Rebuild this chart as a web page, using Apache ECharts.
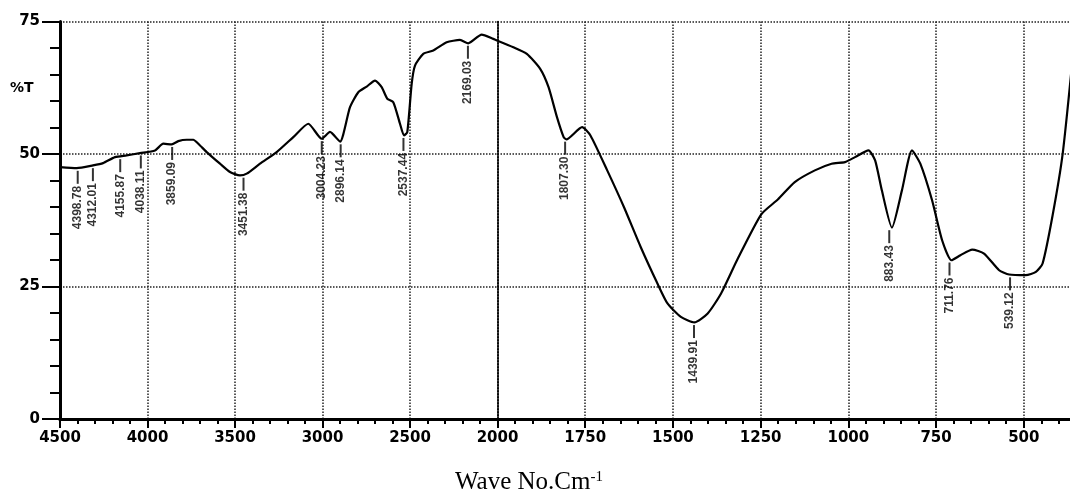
<!DOCTYPE html>
<html>
<head>
<meta charset="utf-8">
<script src="https://cdn.jsdelivr.net/npm/echarts@6/dist/echarts.min.js"></script>
<style>
html, body {margin:0; padding:0; background:#fff;}
#ir_main {width:1070px; height:500px;}
</style>
</head>
<body>
<div id="ir_main"></div>
<script>
// 光谱曲线 (wave number / %T)
var wave_no = [4500, 4404.6, 4311.4, 4254, 4185.7, 4118.9, 4042.9, 3957.2, 3909.7, 3861.7, 3824, 3776, 3738.3, 3709.8, 3661.8,
    3585.8, 3528.6, 3471.5, 3433.2, 3357.2, 3261.8, 3166.9, 3081.2, 3004.6, 2957.2, 2900, 2842.9, 2795.5, 2747.5, 2700,
    2661.8, 2629.8, 2595.5, 2557.2, 2534.4, 2515.5, 2490.4, 2471.5, 2424.1, 2367, 2290.4, 2214.4, 2167, 2090.4, 2024.2,
    2000, 1954.7, 1916.4, 1878.3, 1854.5, 1830.5, 1811.5, 1803.8, 1758.9, 1735.1, 1687.3, 1639.7, 1591.9, 1544.1, 1515.5,
    1477.4, 1439.3, 1400.9, 1362.8, 1315, 1248.2, 1200.4, 1152.8, 1095.5, 1047.8, 1009.6, 981, 942.6, 923.7, 904.6,
    875.9, 847.3, 818.7, 794.9, 761.4, 732.8, 706.1, 680.4, 646.9, 613.3, 570.3, 541.7, 494.2, 465.5, 446.4,
    417.8, 389.1, 360.5];
var percent_t = [47.53, 47.34, 47.85, 48.28, 49.41, 49.74, 50.17, 50.68, 51.94, 51.81, 52.43, 52.69, 52.69, 51.94, 50.36,
    48.17, 46.59, 45.97, 46.29, 48.17, 50.36, 53.18, 55.71, 52.88, 54.16, 52.33, 58.83, 61.66, 62.73, 63.86,
    62.60, 60.42, 59.78, 55.71, 53.50, 54.12, 63.24, 66.69, 68.89, 69.52, 71.08, 71.53, 70.89, 72.53, 71.72,
    71.38, 70.14, 68.89, 66.07, 62.60, 56.95, 53.18, 52.75, 55.07, 53.50, 46.91, 40.00, 32.46, 25.56, 21.80,
    19.27, 18.22, 19.91, 23.68, 30.27, 38.62, 41.45, 44.70, 46.91, 48.17, 48.47, 49.41, 50.68, 48.79, 43.14,
    36.11, 43.14, 50.68, 48.17, 41.26, 33.72, 29.95, 30.90, 31.97, 31.22, 28.07, 27.26, 27.13, 27.75, 29.33,
    38.43, 50.06, 68.25];

// 峰位标注
var peak_wave = [4398.78, 4312.01, 4155.87, 4038.11, 3859.09, 3451.38, 3004.23, 2896.14, 2537.44, 2169.03,
    1807.30, 1439.91, 883.43, 711.76, 539.12];
var peak_t = [47.3, 47.8, 49.5, 50.2, 51.8, 46.0, 52.9, 52.3, 53.5, 70.9, 52.8, 18.2, 36.1, 30.0, 27.2];

// 坐标轴
var y_min = 0, y_max = 75, y_step = 25;
var x_high = [2000, 4500], x_high_step = 500;   // 4500-2000 段
var x_low = [250, 2000], x_low_step = 250;      // 2000 以下段 (放大两倍)

function pickLine(lo, hi) {
    var res = [];
    for (var i = 0; i < wave_no.length; i++) {
        if (wave_no[i] >= lo && wave_no[i] <= hi) res.push([wave_no[i], percent_t[i]]);
    }
    return res;
}

function pickPeaks(lo, hi) {
    var res = [];
    for (var i = 0; i < peak_wave.length; i++) {
        if (peak_wave[i] >= lo && peak_wave[i] <= hi) res.push([peak_wave[i], peak_t[i]]);
    }
    return res;
}

var axisFont = {fontFamily: 'DejaVu Sans', fontWeight: 'bold', fontSize: 15, color: '#000'};
var dotLine = {show: true, lineStyle: {color: '#222', width: 1.5, type: [1.5, 1.5]}};

function bottomAxis(gridIndex, range, step, showMax, showMin) {
    return {
        type: 'value', gridIndex: gridIndex, position: 'bottom', inverse: true,
        min: range[0], max: range[1], interval: step,
        axisLine: {show: true, onZero: false, lineStyle: {color: '#000', width: 3}},
        axisTick: {show: true, length: 9, lineStyle: {color: '#000', width: 2}},
        minorTick: {show: true, splitNumber: 5, length: 5, lineStyle: {color: '#000', width: 2}},
        axisLabel: {
            show: true, margin: 12, showMaxLabel: showMax, showMinLabel: showMin,
            fontFamily: axisFont.fontFamily, fontWeight: axisFont.fontWeight,
            fontSize: axisFont.fontSize, color: axisFont.color,
            formatter: function (v) { return String(v); }
        },
        splitLine: dotLine
    };
}

function topAxis(gridIndex, range) {
    return {
        type: 'value', gridIndex: gridIndex, position: 'top', min: range[0], max: range[1],
        axisLine: {show: true, lineStyle: {color: '#000', width: 3}},
        axisTick: {show: false}, axisLabel: {show: false}, splitLine: {show: false}
    };
}

function peakSeries(xi, data) {
    return {
        type: 'scatter', xAxisIndex: xi, yAxisIndex: xi, data: data,
        symbol: 'rect', symbolSize: [2, 13], symbolOffset: [0, 9],
        itemStyle: {color: '#000'},
        label: {
            show: true, position: 'bottom', distance: 2, rotate: 90,
            align: 'right', verticalAlign: 'middle',
            fontFamily: 'Liberation Sans', fontWeight: 'bold', fontSize: 12, color: '#000',
            formatter: function (p) { return p.value[0].toFixed(2); }
        },
        silent: true, z: 3
    };
}

var irChart = echarts.init(document.getElementById('ir_main'));
var option = {
    backgroundColor: '#fff',
    animation: false,
    grid: [
        {left: 60, top: 21.5, width: 437.5, bottom: 81, outerBoundsMode: 'none'},
        {left: 497.5, top: 21.5, width: 614, bottom: 81, outerBoundsMode: 'none'}
    ],
    xAxis: [
        bottomAxis(0, x_high, x_high_step, true, true),
        bottomAxis(1, x_low, x_low_step, false, false),
        topAxis(0, x_high),
        topAxis(1, x_low)
    ],
    yAxis: [
        {
            type: 'value', gridIndex: 0, min: y_min, max: y_max, interval: y_step,
            axisLine: {show: true, lineStyle: {color: '#000', width: 3}},
            axisTick: {show: true, length: 18, lineStyle: {color: '#000', width: 2}},
            minorTick: {show: true, splitNumber: 5, length: 10, lineStyle: {color: '#000', width: 2}},
            axisLabel: {
                margin: 20, fontFamily: axisFont.fontFamily, fontWeight: axisFont.fontWeight,
                fontSize: axisFont.fontSize, color: axisFont.color
            },
            splitLine: dotLine
        },
        {
            type: 'value', gridIndex: 1, min: y_min, max: y_max, interval: y_step,
            axisLine: {show: true, lineStyle: {color: '#000', width: 1.5}},
            axisTick: {show: false}, axisLabel: {show: false},
            splitLine: dotLine
        }
    ],
    graphic: [
        {
            type: 'text', left: 10, top: 81,
            style: {text: '%T', fontFamily: 'DejaVu Sans', fontWeight: 'bold', fontSize: 14, fill: '#000'}
        },
        {
            type: 'text', left: 455, top: 470,
            style: {
                text: '{a|Wave No.Cm}{s|-1}',
                rich: {
                    a: {fontFamily: 'Liberation Serif', fontSize: 25, fill: '#000', verticalAlign: 'bottom'},
                    s: {fontFamily: 'Liberation Serif', fontSize: 15, fill: '#000', verticalAlign: 'top', padding: [0, 0, 10, 0]}
                }
            }
        }
    ],
    series: [
        {
            type: 'line', xAxisIndex: 0, yAxisIndex: 0, data: pickLine(2000, 4500),
            symbol: 'none', smooth: 0.2, lineStyle: {color: '#000', width: 2.2}, z: 4
        },
        {
            type: 'line', xAxisIndex: 1, yAxisIndex: 1, data: pickLine(250, 2000),
            symbol: 'none', smooth: 0.2, lineStyle: {color: '#000', width: 2.2}, z: 4
        },
        peakSeries(0, pickPeaks(2000, 4500)),
        peakSeries(1, pickPeaks(250, 2000))
    ]
};
irChart.setOption(option);
</script>
</body>
</html>
